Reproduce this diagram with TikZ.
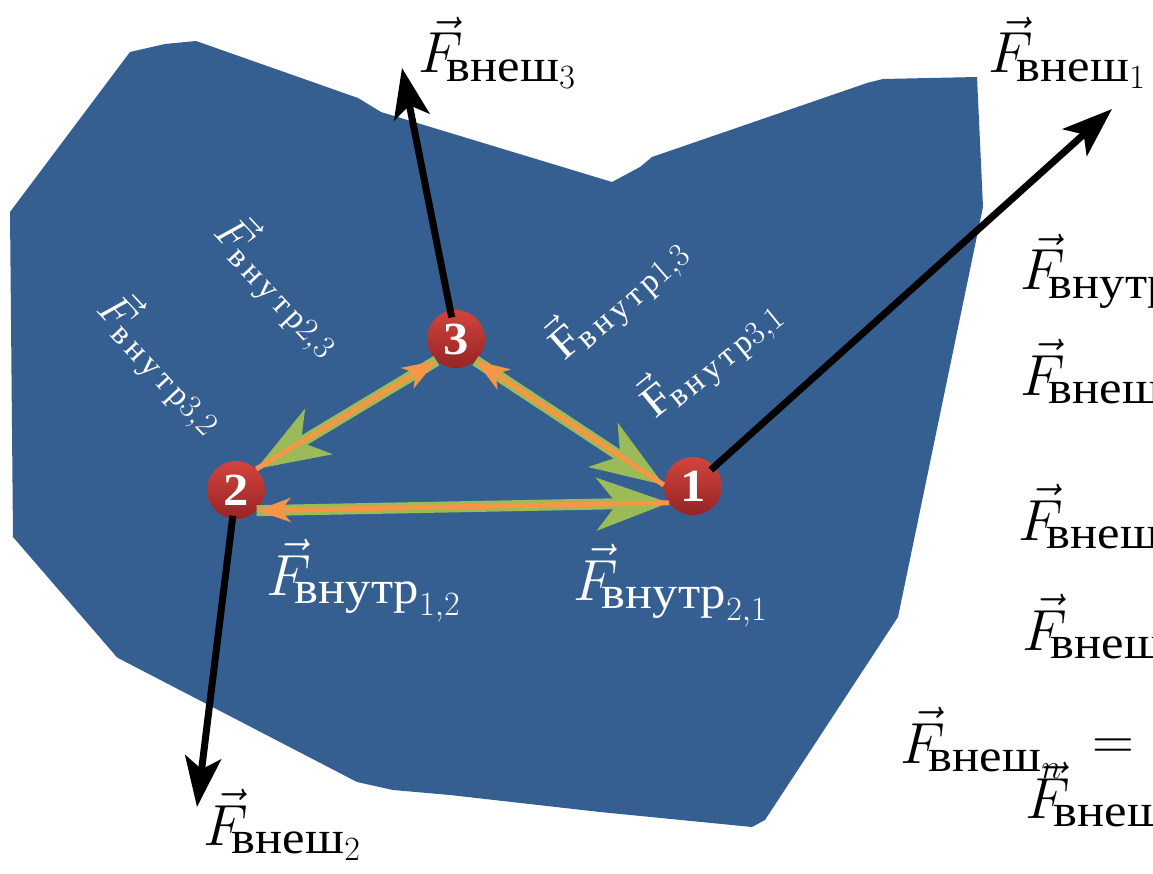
\documentclass[tikz,border=0pt]{standalone}
\usepackage{fix-cm}
\usepackage{amsmath}
\usepackage{fontspec}
\setmainfont[FakeStretch=1.1]{Liberation Serif}
\newfontfamily\spacedfont[LetterSpace=14]{Liberation Serif}
\usetikzlibrary{arrows.meta}
\DeclareMathSizes{58}{58}{46}{34}
\DeclareMathSizes{44}{44}{33}{25}
\newcommand{\subk}{\kern-8pt}
\definecolor{blobblue}{RGB}{54,95,145}
\definecolor{grn}{RGB}{155,187,89}
\definecolor{org}{RGB}{247,150,70}
\definecolor{ballhi}{RGB}{210,68,62}
\definecolor{balllo}{RGB}{150,36,36}
\begin{document}
\begin{tikzpicture}[x=1pt,y=-1pt,
  ball/.style={circle, minimum size=58pt, inner sep=0pt, top color=ballhi, bottom color=balllo, text=white, font=\fontsize{46}{46}\selectfont\bfseries},
  ext/.style={line width=7pt, -{Stealth[length=50pt,width=36pt,inset=12pt]}},
  gline/.style={grn, line width=11pt, -{Stealth[length=72pt,width=52pt,inset=20pt]}},
  oline/.style={org, line width=5pt, -{Stealth[length=34pt,width=24pt,inset=10pt]}},
  big/.style={font=\fontsize{58}{70}\selectfont, inner sep=0pt, anchor=base west},
  small/.style={font=\fontsize{44}{52}\selectfont, inner sep=0pt, text=white}]
\useasboundingbox (0,0) rectangle (1153,874);
\clip (0,0) rectangle (1153,874);
% body
\fill[blobblue] (10,212) -- (130,52) -- (165,44) -- (196,41) -- (358,98) -- (381,112)
  -- (612,182) -- (640,167) -- (652,157) -- (867,83) -- (883,79) -- (977,77)
  -- (983,207) -- (898,617) -- (765,820) -- (752,827) -- (600,812) -- (450,795)
  -- (393,790) -- (357,782) -- (118,658) -- (115,655) -- (13,537) -- cycle;
% particles
\node[ball] (b1) at (693,486) {1};
\node[ball] (b2) at (236,490) {2};
\node[ball] (b3) at (456,339) {3};
% internal forces
\draw[gline] (b2.-45) -- (b1.-145);
\draw[oline] (b1.-145) -- (b2.-45);
\draw[gline] (b3.-132) -- (b2.46);
\draw[oline] (b2.46) -- (b3.-132);
\draw[gline] (b3.-48) -- (b1.178);
\draw[oline] (b1.178) -- (b3.-48);
% external forces
\coordinate (t3) at (402,68);
\coordinate (t1) at (1112,109);
\coordinate (t2) at (197,807);
\draw[ext, shorten <=22pt] (b3.center) -- (t3);
\draw[ext, shorten <=24pt] (b1.center) -- (t1);
\draw[ext, shorten <=26pt] (b2.center) -- (t2);
% labels
\node[big] (le3) at (418,73) {$\vec{F}_{\subk\text{внеш}_3}$};
\node[big] (le1) at (988,73) {$\vec{F}_{\subk\text{внеш}_1}$};
\node[big] (le2) at (203,845) {$\vec{F}_{\subk\text{внеш}_2}$};
\node[big, text=white] (li12) at (266,595) {$\vec{F}_{\subk\text{внутр}_{1,2}}$};
\node[big, text=white] (li21) at (573,600) {$\vec{F}_{\subk\text{внутр}_{2,1}}$};
\node[small, rotate=-47] (ri23) at (280,285) {$\vec{F}_{\text{\spacedfont внутр}2,3}$};
\node[small, rotate=-47] (ri32) at (163,362) {$\vec{F}_{\text{\spacedfont внутр}3,2}$};
\node[small, rotate=41] (ri13) at (617,297) {$\vec{\mathrm{F}}_{\text{\spacedfont внутр}1,3}$};
\node[small, rotate=39] (ri31) at (710,357) {$\vec{\mathrm{F}}_{\text{\spacedfont внутр}3,1}$};
% right column (cut off)
\node[big] (r1) at (1020,290) {$\vec{F}_{\subk\text{внутр}}$};
\node[big] (r2) at (1020,395) {$\vec{F}_{\subk\text{внеш}}$};
\node[big] (r3) at (1018,540) {$\vec{F}_{\subk\text{внеш}}$};
\node[big] (r4) at (1022,650) {$\vec{F}_{\subk\text{внеш}}$};
\node[big] (r5) at (900,763) {$\vec{F}_{\subk\text{внеш}_n}$};
\node[big, anchor=center] (req) at (1113,749) {$=$};
\node[big] (r6) at (1025,818) {$\vec{F}_{\subk\text{внеш}}$};
\end{tikzpicture}
\end{document}
